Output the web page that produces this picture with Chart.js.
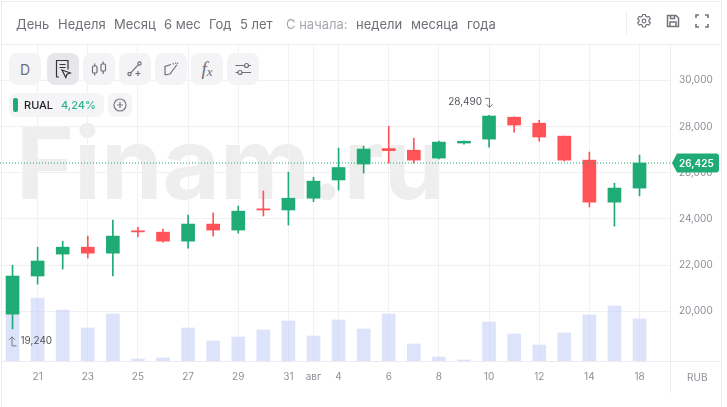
<!DOCTYPE html>
<html lang="ru">
<head>
<meta charset="utf-8">
<title>RUAL</title>
<script src="https://cdn.jsdelivr.net/npm/chart.js@4/dist/chart.umd.min.js"></script>
<style>
  html, body { margin: 0; padding: 0; background: #fff; }
  body { width: 727px; height: 407px; overflow: hidden; position: relative; font-family: Inter, sans-serif; }
  #chart { position: absolute; left: 0; top: 0; z-index: 2; }
  .line { position: absolute; background: #ebebf0; z-index: 1; }
  .mark { position: absolute; left: 16px; top: 113px; font: 700 99px Inter, sans-serif; line-height: 100px; color: #eeeeee; z-index: 0; white-space: nowrap; }
  .tab { position: absolute; top: 16px; font-size: 13px; line-height: 16px; color: #6f6f78; z-index: 3; white-space: nowrap; }
  .tab.off { color: #a6a6ae; }
  .btn { position: absolute; top: 53px; width: 32px; height: 32px; border-radius: 8px; background: #f4f4f6; z-index: 3; display: flex; align-items: center; justify-content: center; color: #6f6f78; font-size: 14px; }
  .btn.on { background: #e7e7eb; color: #33333a; }
  .pill { position: absolute; top: 93px; height: 24px; border-radius: 7px; background: #f5f5f7; z-index: 3; }
  .unit { position: absolute; left: 687px; top: 371px; font-size: 10px; line-height: 12px; color: #8f8f99; z-index: 3; }
  svg { display: block; fill: none; stroke: currentColor; stroke-width: 1.2; }
  .top-ico { position: absolute; top: 13px; color: #73737c; z-index: 3; }
</style>
</head>
<body>
<div class="mark">Finam.ru</div>
<div class="line" style="left:1px;top:1px;width:720px;height:1px"></div>
<div class="line" style="left:1px;top:1px;width:1px;height:406px"></div>
<div class="line" style="left:721px;top:1px;width:1px;height:406px"></div>
<div class="line" style="left:2px;top:44px;width:719px;height:1px"></div>
<div class="line" style="left:2px;top:361px;width:719px;height:1px"></div>
<div class="line" style="left:670px;top:45px;width:1px;height:348px"></div>
<div class="line" style="left:626px;top:12px;width:1px;height:22px"></div>

<span class="tab" style="left:16px">День</span>
<span class="tab" style="left:58px">Неделя</span>
<span class="tab" style="left:114px">Месяц</span>
<span class="tab" style="left:164px">6 мес</span>
<span class="tab" style="left:209px">Год</span>
<span class="tab" style="left:240px">5 лет</span>
<span class="tab off" style="left:286px">С начала:</span>
<span class="tab" style="left:356px">недели</span>
<span class="tab" style="left:411px">месяца</span>
<span class="tab" style="left:467px">года</span>

<div class="top-ico" style="left:636px"><svg width="16" height="16" viewBox="0 0 16 16"><path d="M6.6 1.5h2.8l.4 1.8 1.3.7 1.8-.6 1.4 2.4-1.4 1.2v1.5l1.4 1.2-1.4 2.4-1.8-.6-1.3.7-.4 1.8H6.6l-.4-1.8-1.3-.7-1.8.6-1.4-2.4 1.4-1.2V7L1.700 5.800l1.400-2.400 1.800.6 1.300-.7z"/><circle cx="8" cy="8" r="1.800"/></svg></div>
<div class="top-ico" style="left:665px"><svg width="16" height="16" viewBox="0 0 16 16" style="stroke-width:1.500"><path d="M2.500 2.500h8.500l2.500 2.500v8.500h-11z"/><path d="M5 13.500V9h6v4.500M5.500 2.500v3h4v-3"/></svg></div>
<div class="top-ico" style="left:694px"><svg width="16" height="16" viewBox="0 0 16 16" style="stroke-width:1.600"><path d="M2 5V2h3M11 2h3v3M14 11v3h-3M5 14H2v-3"/></svg></div>

<div class="btn" style="left:9px">D</div>
<div class="btn on" style="left:47px"><svg width="18" height="20" viewBox="0 0 18 20"><path d="M5 18H2.500V1.500h11.500v9"/><path d="M5.500 5.500h6M5.500 8.500h6"/><path d="M8 11l8.500 3-3.500 1.200-1.200 3.300z"/></svg></div>
<div class="btn" style="left:83px"><svg width="18" height="18" viewBox="0 0 18 18"><rect x="2.500" y="6" width="4.500" height="7" rx="1"/><rect x="11" y="4" width="4.500" height="7" rx="1"/><path d="M4.700 3.500V6M4.700 13v2.500M13.200 1.500V4M13.200 11v3"/></svg></div>
<div class="btn" style="left:119px"><svg width="18" height="18" viewBox="0 0 18 18"><circle cx="3.500" cy="14" r="1.600"/><circle cx="13.500" cy="3.500" r="1.600"/><path d="M4.700 12.800l7.700-8.200M12 11v5M9.500 13.500h5"/></svg></div>
<div class="btn" style="left:155px"><svg width="18" height="18" viewBox="0 0 18 18"><path d="M3 15V6.500l6-2M3 15l5-1 6-8"/><path d="M10.500 4l5-1.500M14 6l2-3" stroke-dasharray="1.500 1"/></svg></div>
<div class="btn" style="left:191px;font:italic 400 19px 'Liberation Serif',serif">f<span style="font-size:13px;margin-top:6px">x</span></div>
<div class="btn" style="left:227px"><svg width="18" height="18" viewBox="0 0 18 18"><path d="M1.500 5.500h9M14.500 5.500h2.500M1.500 12.500h2.500M8 12.500h9"/><circle cx="12.500" cy="5.500" r="2"/><circle cx="6" cy="12.500" r="2"/></svg></div>

<div class="pill" style="left:9px;width:95px"></div>
<div style="position:absolute;left:13px;top:98px;width:5px;height:14px;border-radius:2px;background:#20ab76;z-index:3"></div>
<span style="position:absolute;left:24px;top:98px;font:500 11px/14px Inter,sans-serif;color:#24242a;z-index:3">RUAL</span>
<span style="position:absolute;left:61px;top:98px;font:500 11px/15px Inter,sans-serif;color:#2bb389;z-index:3">4,24%</span>
<div class="pill" style="left:108px;width:24px;color:#7a7a82;display:flex;align-items:center;justify-content:center"><svg width="16" height="16" viewBox="0 0 16 16"><circle cx="8" cy="8" r="6"/><path d="M8 5v6M5 8h6"/></svg></div>
<span class="unit">RUB</span>

<canvas id="chart" width="727" height="407"></canvas>

<script>
const dayLabels = ["20", "21", "22", "23", "24", "25", "26", "27", "28", "29", "30", "31", "авг", "4", "5", "6", "7", "8", "9", "10", "11", "12", "13", "14", "15", "18"];
const shownDays = [1, 3, 5, 7, 9, 11, 12, 13, 15, 17, 19, 21, 23, 25];
const opens = [19880, 21530, 22480, 22780, 22520, 23490, 23430, 23040, 23780, 23520, 24440, 24390, 24900, 25690, 26380, 27050, 26980, 26640, 27290, 27460, 28410, 28150, 27590, 26550, 24730, 25340];
const closes = [21530, 22180, 22780, 22520, 23260, 23440, 23040, 23780, 23520, 24340, 24390, 24900, 25640, 26230, 27030, 26960, 26550, 27330, 27370, 28460, 28070, 27550, 26550, 24730, 25340, 26425];
const highs = [22000, 22780, 23040, 23260, 23950, 23640, 23560, 24170, 24260, 24560, 25210, 26030, 25810, 27070, 27160, 28020, 27500, 27370, 27370, 28490, 28430, 28280, 27590, 26900, 25550, 26770];
const lows = [19240, 21180, 21830, 22310, 21530, 23230, 23000, 22740, 23260, 23390, 24130, 23740, 24750, 25250, 25990, 26420, 26420, 26600, 27240, 27110, 27760, 27370, 26510, 24520, 23690, 25000];
const volumes = [48000, 63000, 51000, 33000, 47000, 2000, 3000, 33000, 20000, 24000, 31000, 40000, 25000, 41000, 32000, 47000, 17000, 4000, 1000, 39000, 27000, 16000, 28000, 46000, 55000, 42000];
const priceTicks = [20000, 22000, 24000, 26000, 28000, 30000];
const lastPrice = 26425;
const maxMark = { day: 19, price: 28490 };
const minMark = { day: 0, price: 19240 };

const GREEN = "#1fab76";
const RED = "#ff5357";
const candleColors = opens.map((o, i) => (closes[i] >= o ? GREEN : RED));
const fmt = (v) => v.toLocaleString("en-US");

const overlay = {
  id: "overlay",
  afterDatasetsDraw(chart) {
    const { ctx, chartArea, scales } = chart;
    const yLast = scales.y.getPixelForValue(lastPrice);

    // dotted last price line
    ctx.save();
    ctx.strokeStyle = GREEN;
    ctx.lineWidth = 1;
    ctx.setLineDash([1, 2]);
    ctx.beginPath();
    ctx.moveTo(chartArea.left, yLast);
    ctx.lineTo(chartArea.right, yLast);
    ctx.stroke();
    ctx.restore();

    // max / min labels
    ctx.save();
    ctx.font = "10px Inter, sans-serif";
    ctx.fillStyle = "#55555c";
    ctx.strokeStyle = "#77777f";
    ctx.lineWidth = 1;
    ctx.textBaseline = "middle";

    const maxX = scales.x.getPixelForValue(maxMark.day);
    const maxY = scales.y.getPixelForValue(maxMark.price);
    ctx.textAlign = "right";
    ctx.fillText(fmt(maxMark.price), maxX - 7, maxY - 13);
    ctx.beginPath();
    ctx.moveTo(maxX - 4, maxY - 17);
    ctx.lineTo(maxX + 0.5, maxY - 17);
    ctx.lineTo(maxX + 0.5, maxY - 8);
    ctx.moveTo(maxX - 2.500, maxY - 11);
    ctx.lineTo(maxX + 0.5, maxY - 8);
    ctx.lineTo(maxX + 3.500, maxY - 11);
    ctx.stroke();

    const minX = scales.x.getPixelForValue(minMark.day);
    const minY = scales.y.getPixelForValue(minMark.price);
    ctx.textAlign = "left";
    ctx.fillText(fmt(minMark.price), minX + 8, minY + 12);
    ctx.beginPath();
    ctx.moveTo(minX + 4, minY + 17);
    ctx.lineTo(minX - 0.5, minY + 17);
    ctx.lineTo(minX - 0.5, minY + 8);
    ctx.moveTo(minX - 3.500, minY + 11);
    ctx.lineTo(minX - 0.5, minY + 8);
    ctx.lineTo(minX + 2.500, minY + 11);
    ctx.stroke();
    ctx.restore();
  },
  afterDraw(chart) {
    const { ctx, scales } = chart;
    const yLast = scales.y.getPixelForValue(lastPrice);

    // last price tag on the axis
    ctx.save();
    ctx.fillStyle = GREEN;
    ctx.beginPath();
    ctx.moveTo(672, yLast);
    ctx.lineTo(677, yLast - 9.5);
    ctx.lineTo(716, yLast - 9.5);
    ctx.quadraticCurveTo(719, yLast - 9.5, 719, yLast - 6.5);
    ctx.lineTo(719, yLast + 6.5);
    ctx.quadraticCurveTo(719, yLast + 9.5, 716, yLast + 9.5);
    ctx.lineTo(677, yLast + 9.5);
    ctx.closePath();
    ctx.fill();
    ctx.fillStyle = "#fff";
    ctx.font = "600 10px Inter, sans-serif";
    ctx.textBaseline = "middle";
    ctx.textAlign = "left";
    ctx.fillText(fmt(lastPrice), 679, yLast + 0.5);
    ctx.restore();
  },
};

new Chart(document.getElementById("chart"), {
  type: "bar",
  data: {
    datasets: [
      {
        label: "Тело",
        data: opens.map((o, i) => ({ x: i, y: [o, closes[i]] })),
        backgroundColor: candleColors,
        barThickness: 13,
        minBarLength: 1,
        order: 1,
      },
      {
        label: "Тень",
        data: highs.map((h, i) => ({ x: i, y: [lows[i], h] })),
        backgroundColor: candleColors,
        barThickness: 1,
        order: 2,
      },
      {
        label: "Объём",
        data: volumes.map((v, i) => ({ x: i, y: v })),
        yAxisID: "vol",
        backgroundColor: "rgba(190, 199, 250, 0.5)",
        barThickness: 13,
        order: 3,
      },
    ],
  },
  options: {
    responsive: false,
    animation: false,
    grouped: false,
    layout: { padding: { top: 45 } },
    plugins: { legend: { display: false }, tooltip: { enabled: false } },
    scales: {
      x: {
        type: "linear",
        offset: false,
        min: -0.5,
        max: 26.215,
        afterBuildTicks(scale) {
          scale.ticks = shownDays.map((d) => ({ value: d }));
        },
        afterFit(scale) {
          scale.height = 46;
        },
        grid: { color: "#f1f1f4", lineWidth: 1, drawTicks: false, offset: false },
        border: { display: false },
        ticks: {
          padding: 10,
          maxRotation: 0,
          autoSkip: false,
          color: "#8f8f99",
          font: { family: "Inter, sans-serif", size: 10 },
          callback: (v) => dayLabels[v],
        },
      },
      y: {
        position: "right",
        min: 17849,
        max: 31537,
        afterBuildTicks(scale) {
          scale.ticks = priceTicks.map((v) => ({ value: v }));
        },
        afterFit(scale) {
          scale.width = 57;
        },
        grid: { color: "#f1f1f4", lineWidth: 1, drawTicks: false },
        border: { display: false },
        ticks: {
          padding: 9,
          color: "#8f8f99",
          font: { family: "Inter, sans-serif", size: 10 },
          callback: (v) => fmt(v),
        },
      },
      vol: {
        display: false,
        min: 0,
        max: 316000,
      },
    },
  },
  plugins: [overlay],
});
</script>
</body>
</html>
